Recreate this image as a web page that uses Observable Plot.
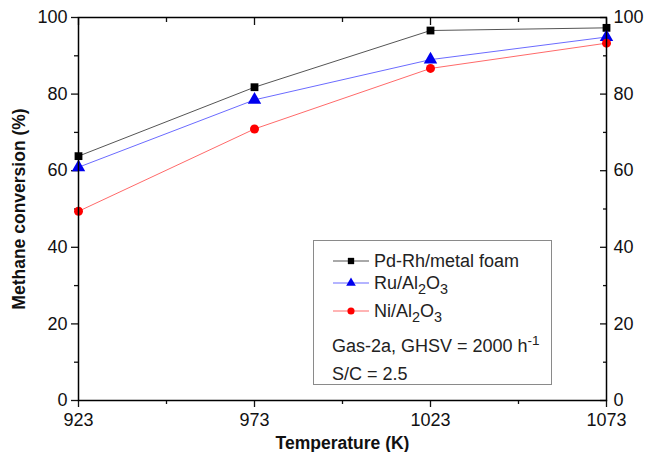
<!DOCTYPE html>
<html>
<head>
<meta charset="utf-8">
<script src="https://cdn.jsdelivr.net/npm/d3@7"></script>
<script src="https://cdn.jsdelivr.net/npm/@observablehq/plot@0.6"></script>
<style>
  body { margin: 0; background: #fff; }
  #wrap { position: relative; width: 647px; height: 452px; font-family: "Liberation Sans", Arial, sans-serif; }
  g[aria-label="x-axis label"] text, g[aria-label="y-axis label"] text { font-weight: bold; font-size: 17.5px; }
  #legend { position: absolute; left: 313px; top: 240px; width: 239px; height: 145px; border: 1px solid #8a8a8a; box-sizing: border-box; background: #fff; font-size: 18px; color: #222; }
  .row { position: absolute; left: 18px; height: 20px; display: flex; align-items: center; white-space: nowrap; }
  .row svg { margin-right: 4px; }
  .note { position: absolute; left: 18px; white-space: nowrap; }
  sub { font-size: 0.8em; vertical-align: -0.35em; line-height: 0; }
  sup { font-size: 0.75em; vertical-align: 0.55em; line-height: 0; }
</style>
</head>
<body>
<div id="wrap"></div>
<script>
const temperatures = [923, 973, 1023, 1073];
const pdRh = [63.8, 81.8, 96.6, 97.3];
const ruAl = [60.9, 78.5, 89.0, 94.9];
const niAl = [49.4, 70.9, 86.7, 93.3];
const xMajor = [923, 973, 1023, 1073];
const xMinor = [948, 998, 1048];
const yMajor = [0, 20, 40, 60, 80, 100];
const yMinor = [10, 30, 50, 70, 90];

const seriesDefs = [
  {name: "Pd-Rh/metal foam", values: pdRh, line: "#555555", fill: "#000000", symbol: "square", r: 4.4},
  {name: "Ru/Al2O3", values: ruAl, line: "#6b6bff", fill: "#0000ee", symbol: "triangle", r: 5},
  {name: "Ni/Al2O3", values: niAl, line: "#ff6a6a", fill: "#ff0000", symbol: "circle", r: 4.5}
];
const rows = seriesDefs.flatMap(s => temperatures.map((t, i) => ({series: s.name, t, v: s.values[i]})));

const lineMarks = seriesDefs.map(s =>
  Plot.line(rows.filter(d => d.series === s.name), {x: "t", y: "v", stroke: s.line, strokeWidth: 1})
);
const dotMarks = seriesDefs.map(s =>
  Plot.dot(rows.filter(d => d.series === s.name), {x: "t", y: "v", fill: s.fill, stroke: "none", symbol: s.symbol, r: s.r})
);

const chart = Plot.plot({
  width: 647,
  height: 452,
  marginLeft: 78,
  marginRight: 41,
  marginTop: 17,
  marginBottom: 52,
  style: {fontFamily: "'Liberation Sans', Arial, sans-serif", fontSize: "18px", color: "#111", background: "#fff"},
  x: {domain: [923, 1073]},
  y: {domain: [0, 100]},
  marks: [
    Plot.axisX({anchor: "bottom", ticks: xMajor, tickSize: 7, tickPadding: 6, tickFormat: d => String(d),
      label: "Temperature (K)", labelAnchor: "center", labelArrow: "none", labelOffset: 48, strokeWidth: 1.3}),
    Plot.axisX({anchor: "bottom", ticks: xMinor, tickSize: 4, text: null, label: null, strokeWidth: 1.3}),
    Plot.axisX({anchor: "top", ticks: xMajor, tickSize: -7, text: null, label: null, strokeWidth: 1.3}),
    Plot.axisX({anchor: "top", ticks: xMinor, tickSize: -4, text: null, label: null, strokeWidth: 1.3}),
    Plot.axisY({anchor: "left", ticks: yMajor, tickSize: 7, tickPadding: 4, tickFormat: d => String(d),
      label: "Methane conversion (%)", labelAnchor: "center", labelArrow: "none", labelOffset: 66, strokeWidth: 1.3}),
    Plot.axisY({anchor: "left", ticks: yMinor, tickSize: 4, text: null, label: null, strokeWidth: 1.3}),
    Plot.axisY({anchor: "right", ticks: yMajor, tickSize: -7, text: null, label: null, strokeWidth: 1.3}),
    Plot.axisY({anchor: "right", ticks: yMinor, tickSize: -4, text: null, label: null, strokeWidth: 1.3}),
    Plot.axisY({anchor: "right", ticks: yMajor, tickSize: 0, tickPadding: 7, tickFormat: d => String(d), label: null}),
    ...lineMarks,
    ...dotMarks,
    Plot.frame({stroke: "#000", strokeWidth: 1.5})
  ]
});

const wrap = document.getElementById("wrap");
wrap.appendChild(chart);

function sample(s) {
  const ns = "http://www.w3.org/2000/svg";
  const svg = document.createElementNS(ns, "svg");
  svg.setAttribute("width", 38); svg.setAttribute("height", 12);
  const ln = document.createElementNS(ns, "line");
  ln.setAttribute("x1", 1); ln.setAttribute("x2", 37); ln.setAttribute("y1", 6); ln.setAttribute("y2", 6);
  ln.setAttribute("stroke", s.line); ln.setAttribute("stroke-width", 1.2);
  svg.appendChild(ln);
  const p = document.createElementNS(ns, "path");
  p.setAttribute("d", d3.symbol(s.symbol === "square" ? d3.symbolSquare : s.symbol === "triangle" ? d3.symbolTriangle : d3.symbolCircle, 40)());
  p.setAttribute("transform", "translate(19,6)");
  p.setAttribute("fill", s.fill);
  svg.appendChild(p);
  return svg;
}
const legend = document.createElement("div");
legend.id = "legend";
const labelsHtml = ["Pd-Rh/metal foam", "Ru/Al<sub>2</sub>O<sub>3</sub>", "Ni/Al<sub>2</sub>O<sub>3</sub>"];
const tops = [10, 32, 60];
seriesDefs.forEach((s, i) => {
  const row = document.createElement("div");
  row.className = "row";
  row.style.top = tops[i] + "px";
  row.appendChild(sample(s));
  const span = document.createElement("span");
  span.innerHTML = labelsHtml[i];
  row.appendChild(span);
  legend.appendChild(row);
});
const n1 = document.createElement("div");
n1.className = "note"; n1.style.top = "95px";
n1.innerHTML = "Gas-2a, GHSV = 2000 h<sup>-1</sup>";
const n2 = document.createElement("div");
n2.className = "note"; n2.style.top = "123px";
n2.innerHTML = "S/C = 2.5";
legend.appendChild(n1); legend.appendChild(n2);
wrap.appendChild(legend);
</script>
</body>
</html>
